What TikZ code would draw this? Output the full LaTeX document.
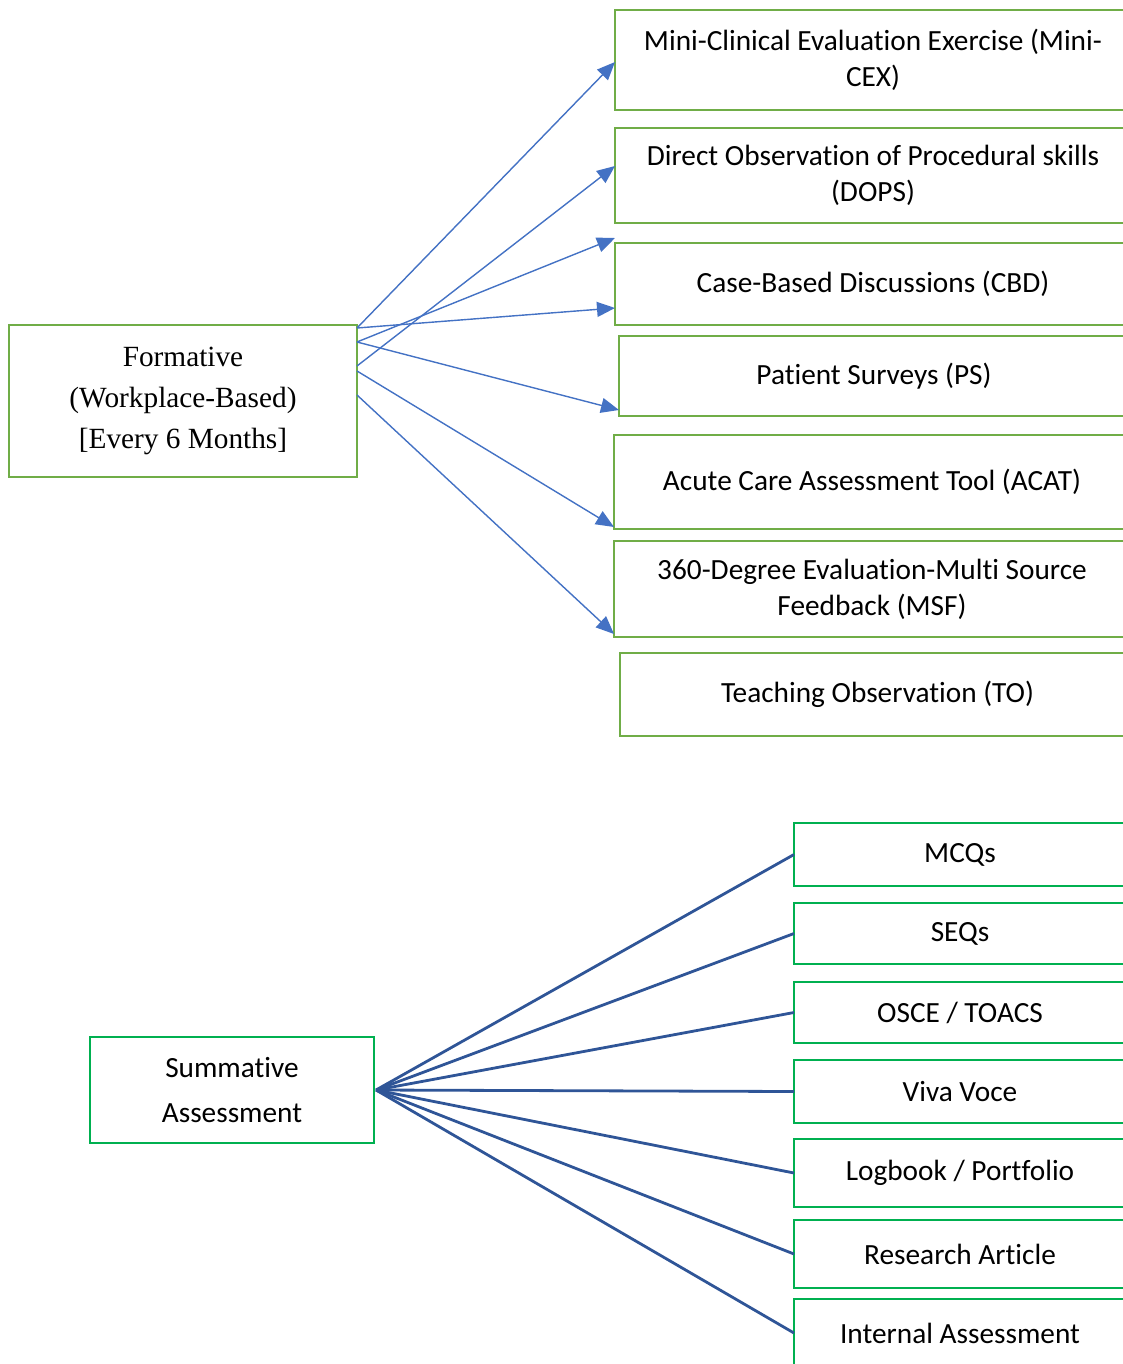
\documentclass[tikz,border=0pt]{standalone}
\usepackage{fontspec}
\setmainfont{Liberation Serif}
\newfontfamily\calfont[Ligatures={NoCommon,NoContextual,NoRequired},Contextuals={NoAlternate}]{Carlito}
\usetikzlibrary{arrows.meta}
\definecolor{ogreen}{HTML}{70AD47}
\definecolor{bgreen}{HTML}{00B050}
\definecolor{oblue}{HTML}{4472C4}
\definecolor{dblue}{HTML}{2F5597}
\begin{document}
\begin{tikzpicture}[x=1pt,y=-1pt,
  box/.style={rectangle,inner sep=0pt,outer sep=0pt,anchor=north west,align=center,line width=2.9pt},
  topbox/.style={box,draw=ogreen,font=\calfont\fontsize{29.3}{35.8}\selectfont},
  botbox/.style={box,draw=bgreen,font=\calfont\fontsize{29.3}{35.8}\selectfont},
  arr/.style={draw=oblue,line width=1.4pt,-{Triangle[length=18pt,width=15pt]},fill=oblue},
  bl/.style={draw=dblue,line width=2.8pt}]
\useasboundingbox (0,0) rectangle (1123,1364);
\clip (0,0) rectangle (1123,1364);
% formative
\node[topbox,font=\fontsize{29.3}{41}\selectfont,minimum width=348pt,minimum height=152pt] (form) at (9,325) {Formative\\(Workplace-Based)\\{[}Every 6 Months{]}};
\node[topbox,minimum width=516pt,minimum height=100pt] (mini) at (615,10) {Mini-Clinical Evaluation Exercise (Mini-\\CEX)};
\node[topbox,minimum width=516pt,minimum height=95pt] (dops) at (615,128) {Direct Observation of Procedural skills\\(DOPS)};
\node[topbox,minimum width=516pt,minimum height=82pt] (cbd) at (615,243) {Case-Based Discussions (CBD)};
\node[topbox,minimum width=510pt,minimum height=80pt] (ps) at (619,336) {Patient Surveys (PS)};
\node[topbox,minimum width=516pt,minimum height=94pt] (acat) at (614,435) {Acute Care Assessment Tool (ACAT)};
\node[topbox,minimum width=516pt,minimum height=96pt] (msf) at (614,541) {360-Degree Evaluation-Multi Source\\Feedback (MSF)};
\node[topbox,minimum width=515pt,minimum height=83pt] (to) at (620,653) {Teaching Observation (TO)};
% arrows
\draw[arr] (form.east |- 0,328) -- (mini.west |- 0,62);
\draw[arr] (form.east |- 0,366) -- (dops.west |- 0,166);
\draw[arr] (form.east |- 0,342) -- (cbd.west |- 0,238);
\draw[arr] (form.east |- 0,328) -- (cbd.west |- 0,308);
\draw[arr] (form.east |- 0,342) -- (ps.west |- 0,410);
\draw[arr] (form.east |- 0,371) -- (acat.west |- 0,527);
\draw[arr] (form.east |- 0,395) -- (msf.west |- 0,634);
% summative
\node[botbox,minimum width=284pt,minimum height=106pt,font=\calfont\fontsize{29.3}{45}\selectfont] (sum) at (90,1037) {Summative\\Assessment};
\node[botbox,minimum width=332pt,minimum height=63pt] (mcq) at (794,823) {MCQs};
\node[botbox,minimum width=332pt,minimum height=61pt] (seq) at (794,903) {SEQs};
\node[botbox,minimum width=332pt,minimum height=61pt] (osce) at (794,982) {OSCE / TOACS};
\node[botbox,minimum width=332pt,minimum height=63pt] (viva) at (794,1060) {Viva Voce};
\node[botbox,minimum width=332pt,minimum height=68pt] (log) at (794,1139) {Logbook / Portfolio};
\node[botbox,minimum width=332pt,minimum height=68pt] (res) at (794,1220) {Research Article};
\node[botbox,minimum width=332pt,minimum height=68pt] (int) at (794,1299) {Internal Assessment};
\coordinate (so) at ([xshift=2pt]sum.east);
\foreach \t in {mcq,seq,osce,viva,log,res,int}
  \draw[bl] (so) -- (\t.west);
\end{tikzpicture}
\end{document}
